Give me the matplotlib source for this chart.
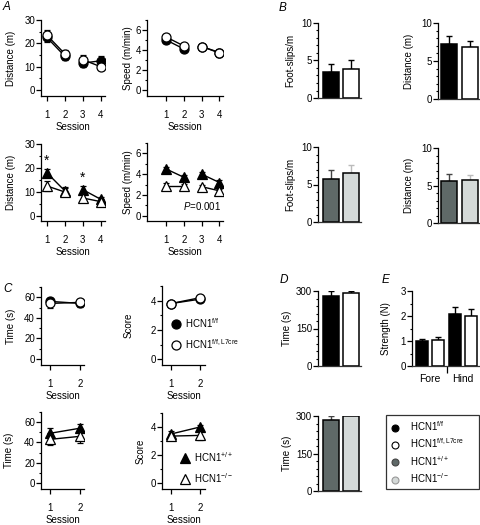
import numpy as np
import matplotlib
matplotlib.use("Agg")
import matplotlib.pyplot as plt
from matplotlib.lines import Line2D
from matplotlib.ticker import MultipleLocator

plt.rcParams['font.family'] = ['Liberation Sans', 'DejaVu Sans']
plt.rcParams['mathtext.fontset'] = 'custom'
plt.rcParams['mathtext.rm'] = 'Liberation Sans'
plt.rcParams['mathtext.it'] = 'Liberation Sans:italic'
plt.rcParams['font.size'] = 7

# ---------------- data ----------------
sessions4 = [1, 2, 3, 4]
sessions2 = [1, 2]

# A: distance / speed
a_dist_ff = [22.5, 14.5, 11.5, 12.5]
a_dist_ff_err = [2.0, 1.5, 1.5, 2.0]
a_dist_cre = [23.5, 15.5, 13.0, 10.0]
a_dist_cre_err = [2.0, 1.5, 2.0, 1.5]
a_speed_ff = [5.0, 4.1, 4.35, 3.7]
a_speed_ff_err = [0.3, 0.2, 0.3, 0.4]
a_speed_cre = [5.3, 4.4, 4.35, 3.75]
a_speed_cre_err = [0.3, 0.25, 0.3, 0.3]

a_dist_wt = [18.0, 10.5, 11.0, 7.0]
a_dist_wt_err = [1.5, 1.5, 1.5, 1.0]
a_dist_ko = [12.5, 10.0, 7.5, 6.0]
a_dist_ko_err = [2.0, 1.5, 1.5, 1.0]
a_speed_wt = [4.5, 3.7, 4.0, 3.2]
a_speed_wt_err = [0.2, 0.2, 0.2, 0.2]
a_speed_ko = [2.9, 2.9, 2.8, 2.4]
a_speed_ko_err = [0.3, 0.2, 0.2, 0.2]

# B: bars
b_slips_top = [3.5, 3.9]
b_slips_top_err = [1.0, 1.1]
b_dist_top = [7.3, 6.8]
b_dist_top_err = [1.0, 0.8]
b_slips_bot = [5.7, 6.5]
b_slips_bot_err = [1.3, 1.1]
b_dist_bot = [5.6, 5.7]
b_dist_bot_err = [1.0, 0.7]

# C
c_time_ff = [56, 54]
c_time_ff_err = [3, 3]
c_time_cre = [54, 55]
c_time_cre_err = [4, 3]
c_score_ff = [3.8, 4.1]
c_score_ff_err = [0.15, 0.1]
c_score_cre = [3.8, 4.2]
c_score_cre_err = [0.2, 0.1]
c_time_wt = [49, 54]
c_time_wt_err = [5, 4]
c_time_ko = [43, 46]
c_time_ko_err = [6, 7]
c_score_wt = [3.5, 4.0]
c_score_wt_err = [0.2, 0.15]
c_score_ko = [3.35, 3.4]
c_score_ko_err = [0.15, 0.3]

# D
d_time_top = [280, 292]
d_time_top_err = [20, 8]
d_time_bot = [283, 300]
d_time_bot_err = [18, 0]

# E
e_groups = ['Fore', 'Hind']
e_strength = [1.0, 1.05, 2.1, 2.0]
e_strength_err = [0.1, 0.12, 0.25, 0.3]

leg_labels = [r'HCN1$^{\mathrm{f/f}}$', r'HCN1$^{\mathrm{f/f,L7cre}}$',
              r'HCN1$^{\mathrm{+/+}}$', 'HCN1$^{\u2212/\u2212}$']

BLACK = '#000000'
WHITE = '#ffffff'
DARK = '#5f6968'
LIGHT = '#d4d9d8'

W, H = 480, 525
fig = plt.figure(figsize=(W / 100, H / 100), dpi=100)


def axpx(x0, y0, x1, y1):
    return fig.add_axes([x0 / W, 1 - y1 / H, (x1 - x0) / W, (y1 - y0) / H])


def style(ax, minor=None):
    for s in ['top', 'right']:
        ax.spines[s].set_visible(False)
    for s in ['left', 'bottom']:
        ax.spines[s].set_linewidth(0.9)
    ax.tick_params(direction='out', length=3.3, width=0.9, pad=1.0, labelsize=7)
    ax.tick_params(axis='x', length=3.8, pad=6.0)
    ax.tick_params(which='minor', length=1.8, width=0.8)
    if minor is not None:
        ax.yaxis.set_minor_locator(MultipleLocator(minor))
    ax.patch.set_alpha(0)


def line_panel(ax, x, ys, errs, filled_marker, open_marker, split=True):
    # ys = [filled, open]
    for vals, err, face in [(ys[0], errs[0], 'black'), (ys[1], errs[1], 'white')]:
        mk = filled_marker if face == 'black' else open_marker
        segs = [slice(0, 2), slice(2, 4)] if split else [slice(0, len(x))]
        for sl in segs:
            ax.errorbar(x[sl], vals[sl], yerr=err[sl], color='black', lw=1.0,
                        marker=mk, ms=6.5, mfc=face, mec='black', mew=0.9,
                        capsize=2, elinewidth=0.9, capthick=0.9, zorder=3 if face == 'black' else 4)


def bar_panel(ax, vals, errs, colors, width, ecols=None):
    x = np.arange(len(vals))
    ax.bar(x, vals, width=width, color=colors, edgecolor='black', linewidth=1.1, zorder=2)
    if ecols is None:
        ecols = ['black'] * len(vals)
    for xi, v, e, ec in zip(x, vals, errs, ecols):
        ax.errorbar([xi], [v], yerr=[[0], [e]], fmt='none', ecolor=ec, elinewidth=1.0,
                    capsize=2.5, capthick=1.0, zorder=1)
    ax.set_xticks([])
    ax.spines['bottom'].set_linewidth(1.4)
    ax.spines['bottom'].set_color('#333333')


# ---------------- A ----------------
ax = axpx(41, 20, 105, 96)
line_panel(ax, sessions4, [a_dist_ff, a_dist_cre], [a_dist_ff_err, a_dist_cre_err], 'o', 'o')
ax.set_xlim(0.67, 4.25); ax.set_ylim(-2.6, 30)
ax.set_yticks([0, 10, 20, 30]); ax.set_xticks(sessions4)
style(ax, 5)
ax.set_ylabel('Distance (m)', labelpad=6)
ax.set_xlabel('Session', labelpad=2)

ax = axpx(147, 20, 223, 96)
line_panel(ax, sessions4, [a_speed_ff, a_speed_cre], [a_speed_ff_err, a_speed_cre_err], 'o', 'o')
ax.set_xlim(-0.08, 4.2); ax.set_ylim(-0.6, 7)
ax.set_yticks([0, 2, 4, 6]); ax.set_xticks(sessions4)
style(ax, 1)
ax.set_ylabel('Speed (m/min)', labelpad=1.5)
ax.set_xlabel('Session', labelpad=2)

ax = axpx(41, 144, 105, 221)
line_panel(ax, sessions4, [a_dist_wt, a_dist_ko], [a_dist_wt_err, a_dist_ko_err], '^', '^')
ax.set_xlim(0.67, 4.25); ax.set_ylim(-2.1, 30)
ax.set_yticks([0, 10, 20, 30]); ax.set_xticks(sessions4)
style(ax, 5)
ax.set_ylabel('Distance (m)', labelpad=6)
ax.set_xlabel('Session', labelpad=2)
for s in [1, 3]:
    i = sessions4.index(s)
    ax.text(s, a_dist_wt[i] + a_dist_wt_err[i] + 0.5, '*', ha='center', va='bottom', fontsize=10)

ax = axpx(147, 143, 223, 221)
line_panel(ax, sessions4, [a_speed_wt, a_speed_ko], [a_speed_wt_err, a_speed_ko_err], '^', '^')
ax.set_xlim(-0.08, 4.2); ax.set_ylim(-0.5, 7)
ax.set_yticks([0, 2, 4, 6]); ax.set_xticks(sessions4)
style(ax, 1)
ax.set_ylabel('Speed (m/min)', labelpad=2)
ax.set_xlabel('Session', labelpad=2)
ax.text(0.98, 0.12, r'$\it{P}$=0.001', transform=ax.transAxes, ha='right', va='bottom', fontsize=7)

# ---------------- B ----------------
ax = axpx(318, 23, 361, 98)
bar_panel(ax, b_slips_top, b_slips_top_err, [BLACK, WHITE], 0.8)
ax.set_xlim(-0.65, 1.5); ax.set_ylim(0, 10); ax.set_yticks([0, 5, 10])
style(ax, 1)
ax.set_ylabel('Foot-slips/m', labelpad=4.5)

ax = axpx(438, 23, 480, 99)
bar_panel(ax, b_dist_top, b_dist_top_err, [BLACK, WHITE], 0.76)
ax.set_xlim(-0.52, 1.48); ax.set_ylim(0, 10); ax.set_yticks([0, 5, 10])
style(ax, 1)
ax.set_ylabel('Distance (m)', labelpad=5)

ax = axpx(318, 147, 361, 222)
bar_panel(ax, b_slips_bot, b_slips_bot_err, [DARK, LIGHT], 0.8, ['#444444', '#bbbbbb'])
ax.set_xlim(-0.65, 1.5); ax.set_ylim(0, 10); ax.set_yticks([0, 5, 10])
style(ax, 1)
ax.set_ylabel('Foot-slips/m', labelpad=4.5)

ax = axpx(438, 148, 480, 223)
bar_panel(ax, b_dist_bot, b_dist_bot_err, [DARK, LIGHT], 0.76, ['#444444', '#bbbbbb'])
ax.set_xlim(-0.52, 1.48); ax.set_ylim(0, 10); ax.set_yticks([0, 5, 10])
style(ax, 1)
ax.set_ylabel('Distance (m)', labelpad=5)

# ---------------- C ----------------
ax = axpx(41, 287, 84, 365)
line_panel(ax, sessions2, [c_time_ff, c_time_cre], [c_time_ff_err, c_time_cre_err], 'o', 'o', split=False)
ax.set_xlim(0.7, 2.13); ax.set_ylim(-6, 70)
ax.set_yticks([0, 20, 40, 60]); ax.set_xticks(sessions2)
style(ax, 10)
ax.set_ylabel('Time (s)', labelpad=6)
ax.set_xlabel('Session', labelpad=2)

ax = axpx(162, 286, 205, 365)
line_panel(ax, sessions2, [c_score_ff, c_score_cre], [c_score_ff_err, c_score_cre_err], 'o', 'o', split=False)
ax.set_xlim(0.69, 2.17); ax.set_ylim(-0.4, 5)
ax.set_yticks([0, 2, 4]); ax.set_xticks(sessions2)
style(ax, 1)
ax.set_ylabel('Score', labelpad=12)
ax.set_xlabel('Session', labelpad=2)
h = [Line2D([], [], ls='none', marker='o', ms=6.5, mfc=c, mec='black', mew=0.9) for c in ['black', 'white']]
ax.legend(h, leg_labels[:2], loc='upper left', bbox_to_anchor=(172 / W, 1 - 316 / H),
          bbox_transform=fig.transFigure, frameon=False, fontsize=7, handlelength=0.8,
          handletextpad=0.5, labelspacing=0.75, borderpad=0, borderaxespad=0)

ax = axpx(41, 412, 84, 489)
line_panel(ax, sessions2, [c_time_wt, c_time_ko], [c_time_wt_err, c_time_ko_err], '^', '^', split=False)
ax.set_xlim(0.7, 2.13); ax.set_ylim(-6, 70)
ax.set_yticks([0, 20, 40, 60]); ax.set_xticks(sessions2)
style(ax, 10)
ax.set_ylabel('Time (s)', labelpad=7)
ax.set_xlabel('Session', labelpad=2)

ax = axpx(162, 413, 205, 489)
line_panel(ax, sessions2, [c_score_wt, c_score_ko], [c_score_wt_err, c_score_ko_err], '^', '^', split=False)
ax.set_xlim(0.69, 2.17); ax.set_ylim(-0.43, 5)
ax.set_yticks([0, 2, 4]); ax.set_xticks(sessions2)
style(ax, 1)
ax.set_ylabel('Score', labelpad=3.5)
ax.set_xlabel('Session', labelpad=2)
h = [Line2D([], [], ls='none', marker='^', ms=7, mfc=c, mec='black', mew=0.9) for c in ['black', 'white']]
ax.legend(h, leg_labels[2:], loc='upper left', bbox_to_anchor=(181 / W, 1 - 450 / H),
          bbox_transform=fig.transFigure, frameon=False, fontsize=7, handlelength=0.8,
          handletextpad=0.5, labelspacing=0.75, borderpad=0, borderaxespad=0)

# ---------------- D ----------------
ax = axpx(318, 291, 361, 366)
bar_panel(ax, d_time_top, d_time_top_err, [BLACK, WHITE], 0.8)
ax.set_xlim(-0.65, 1.5); ax.set_ylim(0, 300); ax.set_yticks([0, 150, 300])
style(ax, 30)
ax.set_ylabel('Time (s)', labelpad=3)

ax = axpx(318, 416, 361, 491)
bar_panel(ax, d_time_bot, d_time_bot_err, [DARK, LIGHT], 0.8, ['#444444', '#bbbbbb'])
ax.set_xlim(-0.65, 1.5); ax.set_ylim(0, 300); ax.set_yticks([0, 150, 300])
style(ax, 30)
ax.set_ylabel('Time (s)', labelpad=3)

# ---------------- E ----------------
ax = axpx(412, 291, 480, 366)
bar_panel(ax, e_strength, e_strength_err, [BLACK, WHITE, BLACK, WHITE], 0.74)
ax.set_xlim(-0.61, 3.55); ax.set_ylim(0, 3); ax.set_yticks([0, 1, 2, 3])
style(ax, 0.5)
ax.set_xticks([1.53]); ax.set_xticklabels([''])
ax.tick_params(axis='x', length=5, width=0.9)
ax.set_xticks([0.5, 2.5], minor=True)
ax.set_xticklabels(e_groups, minor=True)
ax.tick_params(axis='x', which='minor', length=0, pad=6, labelsize=7.5)
ax.set_ylabel('Strength (N)', labelpad=7)

# big legend
h = [Line2D([], [], ls='none', marker='o', ms=5, mfc=c, mec=ec, mew=0.8)
     for c, ec in [(BLACK, 'black'), (WHITE, 'black'), (DARK, '#444444'), (LIGHT, '#999999')]]
leg = fig.legend(h, leg_labels, loc='upper left',
                 bbox_to_anchor=(386 / W, 1 - 491 / H, 93 / W, 76 / H), mode='expand',
                 frameon=True, fancybox=False, edgecolor='black', fontsize=7,
                 handlelength=1.0, handletextpad=1.0, labelspacing=0.36, borderpad=0.45,
                 borderaxespad=0)
leg.get_frame().set_linewidth(0.9)

# panel letters
for lbl, (x, y) in {'A': (3, 10), 'B': (279, 11), 'C': (3, 292), 'D': (280, 283), 'E': (382, 283)}.items():
    fig.text(x / W, 1 - y / H, lbl, fontsize=8.5, style='italic', ha='left', va='baseline')

fig.savefig('out.png', dpi=100)
